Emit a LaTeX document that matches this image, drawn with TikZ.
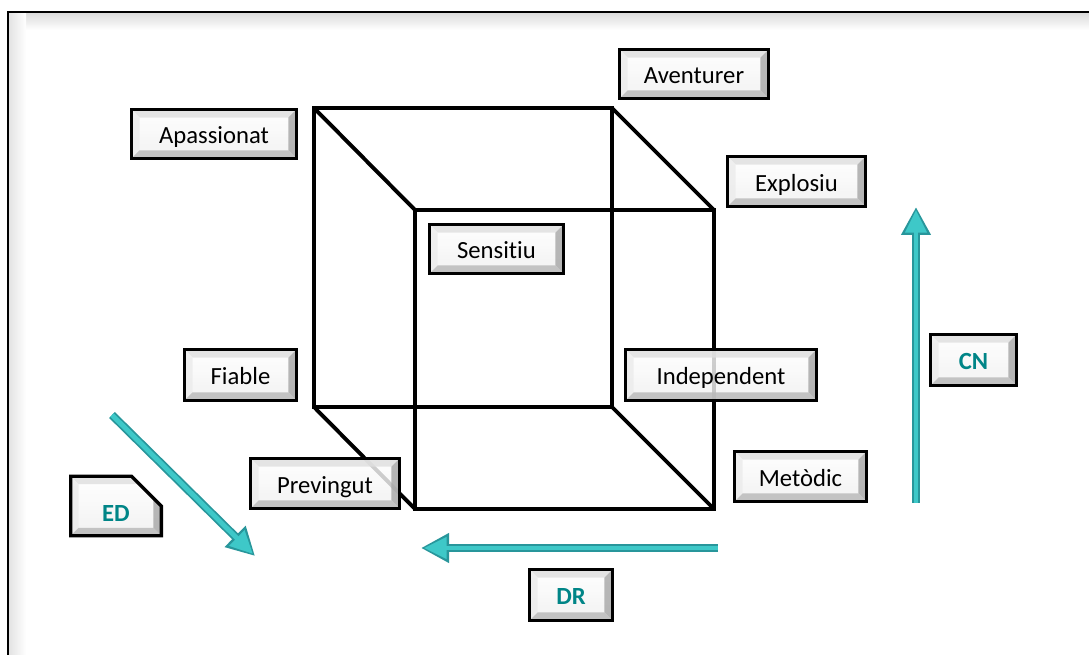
\documentclass[tikz,border=0pt]{standalone}
\usepackage{fontspec}
\setmainfont[Ligatures=NoCommon]{Carlito}
\usetikzlibrary{arrows.meta,shapes.misc,calc}
\definecolor{tealtxt}{RGB}{0,133,135}
\definecolor{arrowdark}{RGB}{40,150,155}
\definecolor{arrowlight}{RGB}{62,200,200}
\tikzset{
  bev/.style={draw=black, line width=2.5pt, inner sep=0pt, text height=14.5pt, text depth=0pt,
    font=\fontsize{18.5pt}{20pt}\selectfont,
    path picture={
      \begin{scope}[fill opacity=0.82]
      \shade[top color=white, bottom color=gray!12]
        (path picture bounding box.south west) rectangle (path picture bounding box.north east);
      \fill[gray!25] (path picture bounding box.north west) -- (path picture bounding box.north east)
        -- ([shift={(-6pt,-6pt)}]path picture bounding box.north east)
        -- ([shift={(6pt,-6pt)}]path picture bounding box.north west) -- cycle;
      \fill[gray!15] (path picture bounding box.north west) -- (path picture bounding box.south west)
        -- ([shift={(6pt,6pt)}]path picture bounding box.south west)
        -- ([shift={(6pt,-6pt)}]path picture bounding box.north west) -- cycle;
      \fill[gray!68] (path picture bounding box.north east) -- (path picture bounding box.south east)
        -- ([shift={(-6pt,6pt)}]path picture bounding box.south east)
        -- ([shift={(-6pt,-6pt)}]path picture bounding box.north east) -- cycle;
      \fill[gray!55] (path picture bounding box.south west) -- (path picture bounding box.south east)
        -- ([shift={(-6pt,6pt)}]path picture bounding box.south east)
        -- ([shift={(6pt,6pt)}]path picture bounding box.south west) -- cycle;
      \end{scope}
    }},
  bw/.style={minimum width=#1*0.75pt-2.5pt},
  bh/.style={minimum height=#1*0.75pt-2.5pt},
  axislbl/.style={bev, text=tealtxt, font=\fontsize{18.5pt}{20pt}\selectfont\bfseries},
  edge/.style={line width=2.9pt, line join=miter},
  arrouter/.style={line width=6.2pt, arrowdark, -{Triangle[length=21pt,width=21pt]}},
  arrinner/.style={line width=3.6pt, arrowlight, shorten >=2.2pt, -{Triangle[length=17pt,width=15.5pt]}}
}
\begin{document}
\begin{tikzpicture}[x=0.75pt,y=-0.75pt]
\useasboundingbox (0,0) rectangle (1089,655);
\fill[white] (0,0) rectangle (1089,655);
% frame inner shadow
\shade[top color=gray!28, bottom color=white] (9,13) rectangle (1089,30);
\shade[left color=gray!22, right color=white] (9,13) rectangle (26,655);
\draw[line width=2.2pt] (8,656) -- (8,12) -- (1090,12);

% cube
\coordinate (b1) at (314,108); \coordinate (b2) at (612,108);
\coordinate (b3) at (612,407); \coordinate (b4) at (314,407);
\coordinate (f1) at (415,210); \coordinate (f2) at (714,210);
\coordinate (f3) at (714,509); \coordinate (f4) at (415,509);
\draw[edge] (b1) -- (b2) -- (b3) -- (b4) -- cycle;
\draw[edge] (f1) -- (f2) -- (f3) -- (f4) -- cycle;
\draw[edge] (b1) -- (f1);
\draw[edge] (b2) -- (f2);
\draw[edge] (b3) -- (f3);
\draw[edge] (b4) -- (f4);

% labels
\node[bev, bw=168, bh=52] (apa) at (214,134) {Apassionat};
\node[bev, bw=152, bh=52] (ave) at (694,74) {Aventurer};
\node[bev, bw=141, bh=53] (exp) at (796.5,181.5) {Explosiu};
\node[bev, bw=137, bh=52] (sen) at (496.5,249) {Sensitiu};
\node[bev, bw=115, bh=54] (fia) at (240.5,375) {Fiable};
\node[bev, bw=194, bh=54] (ind) at (721,375) {Independent};
\node[bev, bw=152, bh=53] (pre) at (325,483.5) {Previngut};
\node[bev, bw=135, bh=53] (met) at (800.5,476.5) {Metòdic};

% axis labels
\node[axislbl, bw=89, bh=54] (cn) at (973.5,360) {CN};
\node[axislbl, bw=86, bh=54] (dr) at (571,595) {DR};
\node[axislbl, chamfered rectangle, chamfered rectangle corners=north east,
      chamfered rectangle xsep=12pt, chamfered rectangle ysep=11pt,
      text height=24pt, text depth=0pt,
      bw=94, bh=62] (ed) at (116,506) {ED};

% arrows
\coordinate (cnS) at (916,503); \coordinate (cnE) at (916,207);
\coordinate (drS) at (718,548); \coordinate (drE) at (421,548);
\coordinate (edS) at (112,415); \coordinate (edE) at (255,556);
\foreach \s/\e in {cnS/cnE, drS/drE, edS/edE}{
  \draw[arrouter] (\s) -- (\e);
  \draw[arrinner] (\s) -- (\e);
}
\end{tikzpicture}
\end{document}
